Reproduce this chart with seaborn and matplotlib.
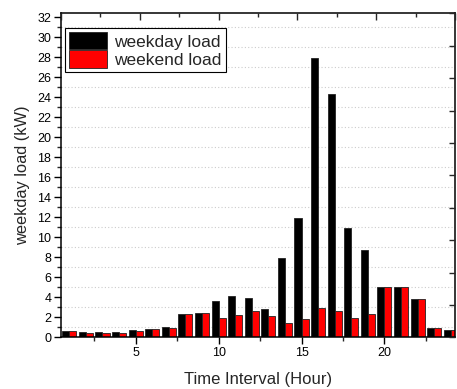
import matplotlib
matplotlib.use("Agg")
import matplotlib.pyplot as plt
import seaborn as sns
import pandas as pd
from matplotlib.ticker import MultipleLocator

hours = list(range(1, 25))
weekday_load = [0.6, 0.5, 0.5, 0.5, 0.7, 0.83, 1.0, 2.37, 2.43, 3.63, 4.1, 3.93,
                2.83, 7.97, 11.93, 27.9, 24.3, 10.97, 8.73, 5.0, 5.0, 3.83, 0.97, 0.73]
weekend_load = [0.6, 0.47, 0.47, 0.47, 0.63, 0.8, 0.97, 2.3, 2.4, 1.93, 2.2, 2.67,
                2.13, 1.47, 1.8, 2.9, 2.67, 1.93, 2.33, 5.0, 5.0, 3.83, 0.97, 0.73]
series_names = ["weekday load", "weekend load"]
x_ticks = [5, 10, 15, 20]
y_ticks = list(range(0, 33, 2))

df = pd.DataFrame({
    "hour": hours * 2,
    "load": weekday_load + weekend_load,
    "type": [series_names[0]] * 24 + [series_names[1]] * 24,
})

sns.set_style("ticks")
plt.rcParams["font.family"] = ["Liberation Sans", "DejaVu Sans"]

fig = plt.figure(figsize=(4.57, 3.89), dpi=100)
ax = fig.add_axes([0.1335, 0.1324, 0.862, 0.8329])

sns.barplot(data=df, x="hour", y="load", hue="type", native_scale=True,
            palette=["black", "red"], width=0.85, gap=0, ax=ax,
            edgecolor="#222222", linewidth=0.6, saturation=1)

ax.set_xlim(0.5, 24.25)
ax.set_ylim(0, 32.4)
ax.set_xticks(x_ticks)
ax.set_xticklabels([str(t) for t in x_ticks])
ax.xaxis.set_minor_locator(MultipleLocator(2.5))
ax.set_yticks(y_ticks)
ax.yaxis.set_minor_locator(MultipleLocator(1))
ax.yaxis.grid(True, which="minor", linestyle=(0, (1, 2)), color="#cccccc", linewidth=0.8)
ax.yaxis.grid(False, which="major")
ax.set_axisbelow(True)

ax.tick_params(axis="both", which="major", direction="out", length=5, width=1,
               labelsize=9, colors="black", pad=2)
ax.tick_params(axis="both", which="minor", direction="out", length=3, width=1)
for s in ax.spines.values():
    s.set_linewidth(1.1)
    s.set_color("black")
    s.set_visible(True)

ax.set_xlabel("Time Interval (Hour)", fontsize=12, labelpad=9)
ax.set_ylabel("weekday load (kW)", fontsize=11.8, labelpad=5)

# twin axes for Origin-style top/right ticks
axt = ax.twiny()
axt.set_xlim(0, 10)
axt.xaxis.set_major_locator(MultipleLocator(2))
axt.xaxis.set_minor_locator(MultipleLocator(1))
axt.tick_params(axis="x", which="major", direction="in", length=5, width=1, labeltop=False)
axt.tick_params(axis="x", which="minor", direction="in", length=3, width=1)
axr = ax.twinx()
axr.set_ylim(0, 10)
axr.yaxis.set_major_locator(MultipleLocator(1))
axr.tick_params(axis="y", which="major", direction="in", length=4, width=1, labelright=False)
for a in (axt, axr):
    for s in a.spines.values():
        s.set_visible(False)

leg = ax.legend(loc="upper left", bbox_to_anchor=(0.01, 0.956), fontsize=12.5,
                frameon=True, fancybox=False, edgecolor="black", framealpha=1,
                handlelength=2.2, handleheight=1.15, handletextpad=0.4,
                borderpad=0.25, labelspacing=0.05, borderaxespad=0)
leg.get_frame().set_linewidth(0.8)
leg.set_zorder(10)

fig.savefig("out.png", dpi=100)
